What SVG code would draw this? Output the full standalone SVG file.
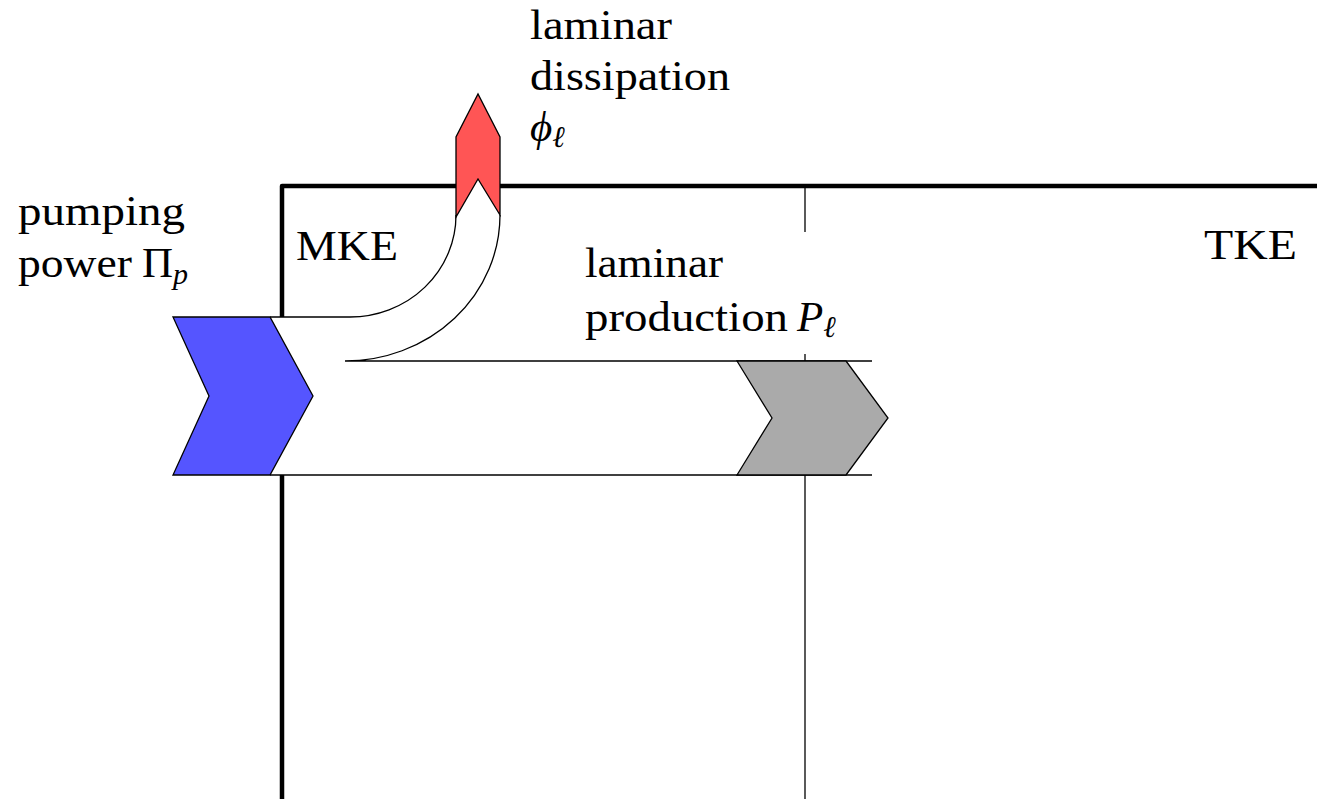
<svg xmlns="http://www.w3.org/2000/svg" width="1317" height="799" viewBox="0 0 1317 799">
<style>
text{font-family:'Liberation Serif','DejaVu Serif','Noto Serif','Times New Roman',Times,serif;font-size:43px;fill:#000}
.i{font-style:italic}
.sub{font-size:30px;font-style:italic}
.thick{fill:none;stroke:#000;stroke-width:4.5;stroke-linejoin:round}
.thin{fill:none;stroke:#000;stroke-width:1.3}
.arrow{stroke:#000;stroke-width:1.3;stroke-linejoin:miter}
</style>
<rect width="1317" height="799" fill="#fff"/>
<g id="frame">
<path class="thick" d="M282,799 V186 H1317"/>
<line class="thin" x1="805" y1="186" x2="805" y2="799"/>
</g>
<g id="connectors">
<path d="M270,317 H350 A106,102 0 0 0 456,215 L478,179 L500,215 A155,146 0 0 1 345,361 H872 V475 H270 Z" fill="#fff" stroke="none"/>
<path class="thin" d="M270,317 H350 A106,102 0 0 0 456,215"/>
<path class="thin" d="M500,215 A155,146 0 0 1 345,361 H872"/>
<line class="thin" x1="270" y1="475" x2="872" y2="475"/>
</g>
<g id="pumping">
<polygon class="arrow" fill="#5555ff" points="173,317 270,317 313,396 270,475 173,475 209,396"/>
<text font-family="Liberation Serif, serif" x="18" y="225" textLength="167" lengthAdjust="spacingAndGlyphs">pumping</text>
<text font-family="Liberation Serif, serif" x="18" y="277"><tspan textLength="114" lengthAdjust="spacingAndGlyphs">power</tspan><tspan x="142">Π</tspan><tspan class="sub" dy="7">p</tspan></text>
</g>
<g id="dissipation">
<polygon class="arrow" fill="#ff5555" points="456,217 456,137 478,94 500,137 500,215 478,179"/>
<text font-family="Liberation Serif, serif" x="530" y="39" textLength="142" lengthAdjust="spacingAndGlyphs">laminar</text>
<text font-family="Liberation Serif, serif" x="530" y="90" textLength="200" lengthAdjust="spacingAndGlyphs">dissipation</text>
<text font-family="Liberation Serif, serif" x="530" y="141"><tspan class="i">ϕ</tspan><tspan class="sub" dy="6">ℓ</tspan></text>
</g>
<g id="production">
<polygon class="arrow" fill="#aaaaaa" points="737,361 846,361 888,418 846,475 737,475 772,418"/>
<rect x="575" y="232" width="290" height="122" fill="#fff"/>
<text font-family="Liberation Serif, serif" x="585" y="277" textLength="138" lengthAdjust="spacingAndGlyphs">laminar</text>
<text font-family="Liberation Serif, serif" x="585" y="331"><tspan textLength="203" lengthAdjust="spacingAndGlyphs">production</tspan><tspan class="i" x="797">P</tspan><tspan class="sub" dy="6">ℓ</tspan></text>
</g>
<g id="mke">
<text font-family="Liberation Serif, serif" x="296" y="260" textLength="102" lengthAdjust="spacingAndGlyphs">MKE</text>
</g>
<g id="tke">
<text font-family="Liberation Serif, serif" x="1204" y="259" textLength="93" lengthAdjust="spacingAndGlyphs">TKE</text>
</g>
</svg>
